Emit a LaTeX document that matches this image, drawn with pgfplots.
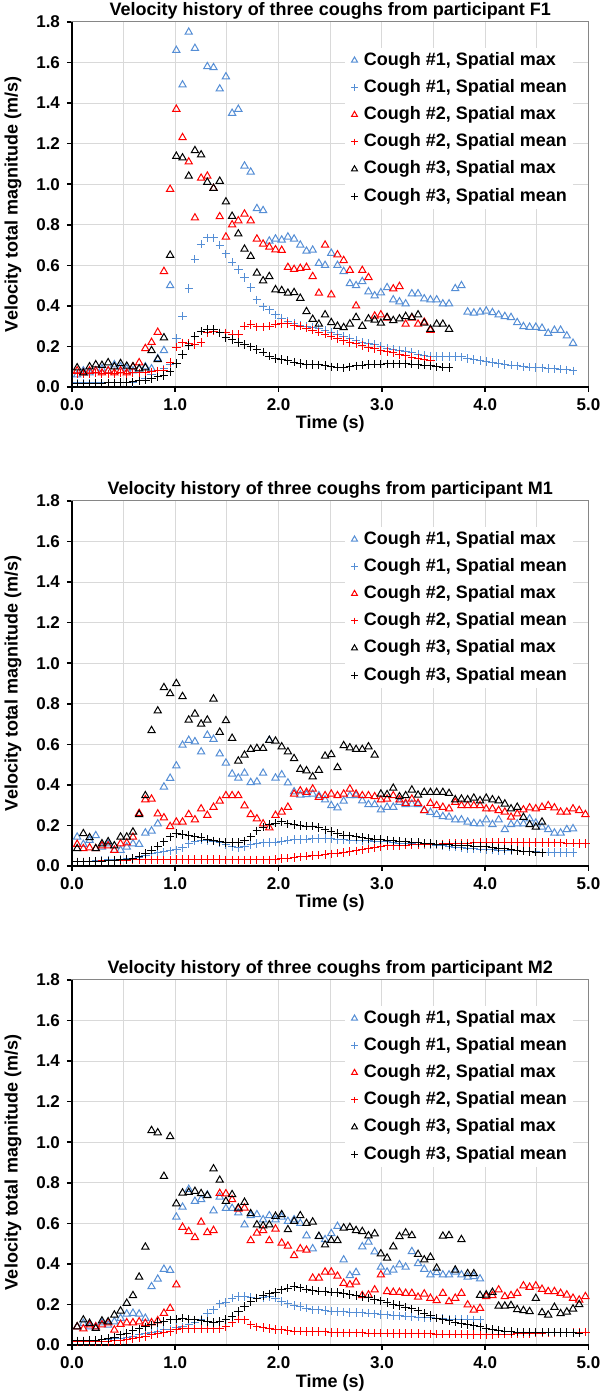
\documentclass[border=0pt]{standalone}
\usepackage{fontspec}
\setmainfont{Liberation Sans}
\usepackage{pgfplots}
\usepackage{pgfplotstable}
\pgfplotsset{compat=1.18}
\definecolor{cblue}{RGB}{85,142,213}
\definecolor{cred}{RGB}{255,0,0}
\definecolor{gridgray}{RGB}{217,217,217}
\definecolor{framegray}{RGB}{134,134,134}

% Panel F1
\pgfplotstableread{
t b1 b1m r2 r2m k3 k3m
0.05 0.06 0.02 0.08 0.065 0.095 0.015
0.11 0.08 0.02 0.07 0.065 0.07 0.015
0.17 0.07 0.02 0.08 0.065 0.10 0.015
0.23 0.08 0.02 0.08 0.07 0.11 0.018
0.29 0.09 0.02 0.07 0.065 0.107 0.018
0.35 0.08 0.02 0.08 0.065 0.12 0.02
0.41 0.11 0.02 0.07 0.065 0.10 0.02
0.47 0.10 0.02 0.08 0.07 0.116 0.022
0.53 0.09 0.02 0.07 0.065 0.103 0.022
0.59 0.08 0.02 0.10 0.07 0.10 0.025
0.65 0.09 0.03 0.12 0.07 0.09 0.03
0.71 0.10 0.04 0.19 0.07 0.095 0.034
0.77 0.09 0.06 0.22 0.074 0.18 0.04
0.83 0.14 0.08 0.27 0.079 0.136 0.05
0.89 0.18 0.09 0.57 0.082 0.243 0.057
0.95 0.50 0.11 0.975 0.12 0.65 0.074
1.01 1.66 0.24 1.37 0.197 1.138 0.115
1.07 1.49 0.35 1.23 0.218 1.13 0.16
1.13 1.75 0.485 1.11 0.215 1.04 0.205
1.19 1.67 0.63 0.834 0.21 1.166 0.25
1.25 nan 0.705 1.03 0.22 1.145 0.275
1.31 1.58 0.735 1.04 0.267 1.01 0.284
1.37 1.575 0.735 0.98 0.275 0.98 0.284
1.43 1.47 0.70 0.84 0.267 1.015 0.267
1.49 1.53 0.656 0.74 0.267 0.913 0.243
1.55 1.35 0.615 0.80 0.26 0.842 0.234
1.61 1.37 0.58 0.82 0.26 0.755 0.22
1.67 1.09 0.54 0.853 0.30 0.68 0.21
1.73 1.06 0.49 0.82 0.308 0.644 0.198
1.79 0.88 0.43 0.73 0.297 0.562 0.185
1.85 0.87 0.395 0.705 0.297 0.524 0.172
1.91 0.72 0.38 0.69 0.30 0.545 0.152
1.97 0.73 0.355 0.677 0.31 0.48 0.14
2.03 0.725 0.34 0.674 0.313 0.476 0.136
2.09 0.74 0.325 0.59 0.313 0.463 0.131
2.15 0.73 0.315 0.58 0.303 0.466 0.123
2.21 0.70 0.305 0.585 0.30 0.438 0.115
2.27 0.67 0.30 0.59 0.29 0.372 0.111
2.33 0.675 0.295 0.545 0.28 0.334 0.111
2.39 0.61 0.29 0.463 0.27 0.31 0.109
2.45 0.60 0.28 0.70 0.26 0.356 0.105
2.51 0.66 0.27 0.455 0.25 0.318 0.10
2.57 0.60 0.26 0.652 0.24 0.30 0.098
2.63 0.57 0.25 0.624 0.23 0.293 0.094
2.69 0.51 0.24 0.575 0.22 0.311 0.10
2.75 0.50 0.23 0.40 0.213 0.343 0.104
2.81 0.52 0.22 0.575 0.205 0.30 0.108
2.87 0.47 0.215 0.54 0.195 0.336 0.11
2.93 0.45 0.21 0.35 0.19 0.33 0.112
2.99 0.465 0.20 0.356 0.18 0.315 0.113
3.05 0.49 0.19 0.34 0.175 0.343 0.114
3.11 0.43 0.185 0.484 0.168 0.328 0.114
3.17 0.42 0.18 0.496 0.16 0.336 0.114
3.23 0.41 0.175 0.31 0.153 0.348 0.114
3.29 0.46 0.17 0.34 0.147 0.343 0.112
3.35 0.46 0.16 0.31 0.14 0.356 0.11
3.41 0.435 0.155 0.32 0.136 0.315 0.107
3.47 0.43 0.152 0.28 0.13 0.285 0.104
3.53 0.43 0.15 nan nan 0.31 0.10
3.59 0.41 0.15 nan nan 0.31 0.098
3.65 0.41 0.15 nan nan 0.285 0.097
3.71 0.485 0.15 nan nan nan nan
3.77 0.50 0.148 nan nan nan nan
3.83 0.37 0.14 nan nan nan nan
3.89 0.365 0.135 nan nan nan nan
3.95 0.37 0.13 nan nan nan nan
4.01 0.375 0.125 nan nan nan nan
4.07 0.367 0.12 nan nan nan nan
4.13 0.356 0.115 nan nan nan nan
4.19 0.348 0.11 nan nan nan nan
4.25 0.343 0.107 nan nan nan nan
4.31 0.318 0.104 nan nan nan nan
4.37 0.298 0.10 nan nan nan nan
4.43 0.295 0.098 nan nan nan nan
4.49 0.295 0.096 nan nan nan nan
4.55 0.29 0.094 nan nan nan nan
4.61 0.265 0.092 nan nan nan nan
4.67 0.28 0.09 nan nan nan nan
4.73 0.28 0.088 nan nan nan nan
4.79 0.252 0.085 nan nan nan nan
4.85 0.216 0.08 nan nan nan nan
}\tabA

% Panel M1
\pgfplotstableread{
t b1 b1m r2 r2m k3 k3m
0.05 0.143 0.02 0.107 0.02 0.086 0.02
0.11 0.107 0.02 0.086 0.02 0.16 0.02
0.17 0.127 0.022 0.09 0.022 0.14 0.022
0.23 0.15 0.025 0.086 0.024 0.086 0.022
0.29 0.094 0.027 0.10 0.025 0.11 0.024
0.35 0.11 0.03 0.10 0.026 0.12 0.025
0.41 0.078 0.03 0.078 0.027 0.10 0.027
0.47 0.078 0.032 0.11 0.028 0.143 0.03
0.53 0.094 0.035 0.114 0.029 0.143 0.033
0.59 0.11 0.038 0.143 0.03 0.168 0.037
0.65 0.107 0.042 0.26 0.03 0.254 0.048
0.71 0.163 0.05 0.327 0.03 0.347 0.062
0.77 0.173 0.06 0.33 0.03 0.668 0.078
0.83 0.208 0.065 0.257 0.03 0.765 0.098
0.89 0.39 0.07 0.238 0.031 0.88 0.119
0.95 0.433 0.075 0.195 0.031 0.85 0.143
1.01 0.494 0.08 0.217 0.032 0.90 0.16
1.07 0.596 0.09 0.217 0.032 0.836 0.156
1.13 0.62 0.11 0.254 0.032 0.72 0.151
1.19 0.613 0.122 0.228 0.032 0.75 0.143
1.25 0.563 0.127 0.282 0.032 0.70 0.14
1.31 0.645 0.124 0.25 0.032 0.72 0.132
1.37 0.625 0.122 0.29 0.032 0.824 0.124
1.43 0.553 0.114 0.32 0.032 0.66 0.119
1.49 0.508 0.105 0.347 0.031 0.717 0.116
1.55 0.454 0.095 0.347 0.031 0.63 0.116
1.61 0.434 0.091 0.347 0.031 0.518 0.116
1.67 0.458 0.095 0.297 0.03 0.547 0.124
1.73 0.412 0.104 0.254 0.03 0.575 0.143
1.79 0.415 0.11 0.233 0.03 0.58 0.173
1.85 0.458 0.114 0.208 0.03 0.58 0.192
1.91 0.62 0.115 0.189 0.031 0.62 0.204
1.97 0.434 0.118 0.25 0.033 0.616 0.212
2.03 0.45 0.122 0.266 0.036 0.588 0.217
2.09 0.41 0.127 0.29 0.039 0.563 0.208
2.15 0.366 0.13 0.355 0.042 0.53 0.204
2.21 0.35 0.13 0.371 0.045 0.477 0.20
2.27 0.352 0.132 0.363 0.048 0.47 0.197
2.33 0.355 0.134 0.38 0.051 0.44 0.197
2.39 0.347 0.136 0.339 0.054 0.472 0.19
2.45 0.326 0.135 0.347 0.057 0.542 0.178
2.51 0.298 0.134 0.355 0.06 0.55 0.17
2.57 0.287 0.13 0.347 0.063 0.485 0.16
2.63 0.32 0.129 0.355 0.067 0.594 0.152
2.69 0.347 0.128 0.38 0.071 0.583 0.148
2.75 0.347 0.127 0.355 0.075 0.575 0.144
2.81 0.322 0.126 0.347 0.08 0.575 0.14
2.87 0.303 0.125 0.347 0.085 0.588 0.136
2.93 0.303 0.123 0.342 0.09 0.547 0.133
2.99 0.277 0.121 0.326 0.095 0.355 0.13
3.05 0.29 0.119 0.33 0.10 0.352 0.127
3.11 0.29 0.116 0.347 0.101 0.384 0.124
3.17 0.314 0.113 0.326 0.102 0.342 0.121
3.23 0.303 0.111 0.309 0.103 0.347 0.119
3.29 0.306 0.109 0.33 0.105 0.375 0.117
3.35 0.303 0.107 0.309 0.106 0.35 0.115
3.41 0.274 0.106 0.274 0.107 0.363 0.112
3.47 0.265 0.104 0.309 0.107 0.363 0.11
3.53 0.254 0.103 0.298 0.108 0.363 0.107
3.59 0.244 0.10 0.29 0.109 0.363 0.105
3.65 0.241 0.096 0.282 0.11 0.358 0.104
3.71 0.228 0.093 0.314 0.111 0.327 0.103
3.77 0.228 0.09 0.298 0.112 0.33 0.101
3.83 0.217 0.087 0.298 0.113 0.327 0.099
3.89 0.21 0.085 0.298 0.114 0.335 0.098
3.95 0.208 0.083 0.298 0.115 0.322 0.096
4.01 0.228 0.081 0.282 0.115 0.335 0.094
4.07 0.205 0.079 0.282 0.115 0.327 0.091
4.13 0.228 0.077 0.274 0.115 0.322 0.088
4.19 0.18 0.075 0.266 0.115 0.306 0.085
4.25 0.205 0.075 0.241 0.115 0.282 0.081
4.31 0.208 0.075 0.257 0.115 0.29 0.076
4.37 0.208 0.073 0.277 0.115 0.24 0.073
4.43 0.233 0.072 0.287 0.115 0.204 0.071
4.49 0.212 0.07 0.282 0.115 0.192 0.068
4.55 0.192 0.069 0.29 0.115 0.217 0.065
4.61 0.18 0.068 0.298 0.115 nan nan
4.67 0.163 0.067 0.287 0.114 nan nan
4.73 0.163 0.067 0.266 0.114 nan nan
4.79 0.18 0.067 0.266 0.113 nan nan
4.85 0.184 0.067 0.282 0.112 nan nan
4.91 nan nan 0.274 0.111 nan nan
4.97 nan nan 0.254 0.11 nan nan
}\tabB

% Panel M2
\pgfplotstableread{
t b1 b1m r2 r2m k3 k3m
0.05 0.09 0.02 0.09 0.015 0.09 0.02
0.11 0.107 0.02 0.08 0.015 0.124 0.02
0.17 0.09 0.022 0.10 0.015 0.107 0.022
0.23 0.09 0.024 0.09 0.016 0.082 0.024
0.29 0.11 0.026 0.10 0.017 0.119 0.028
0.35 0.099 0.028 0.11 0.018 0.115 0.033
0.41 0.115 0.03 0.074 0.02 0.148 0.038
0.47 0.132 0.032 0.102 0.022 0.168 0.05
0.53 0.153 0.035 0.11 0.025 0.206 0.058
0.59 0.157 0.04 0.11 0.03 0.244 0.071
0.65 0.153 0.05 0.115 0.037 0.335 0.08
0.71 0.132 0.058 0.107 0.042 0.483 0.09
0.77 0.288 0.064 0.11 0.05 1.058 0.10
0.83 0.325 0.069 0.12 0.055 1.047 0.11
0.89 0.374 0.074 0.157 0.06 0.832 0.115
0.95 0.368 0.077 0.181 0.066 1.028 0.124
1.01 0.631 0.087 0.297 0.077 0.697 0.127
1.07 0.68 0.09 0.581 0.079 0.75 0.132
1.13 0.768 0.099 0.56 0.08 0.753 0.128
1.19 0.709 0.11 0.53 0.08 0.758 0.124
1.25 0.718 0.127 0.606 0.08 0.747 0.12
1.31 0.74 0.157 0.555 0.079 0.737 0.115
1.37 0.662 0.173 0.565 0.08 0.869 0.11
1.43 0.73 0.203 0.748 0.082 0.813 0.115
1.49 0.674 0.21 0.746 0.09 0.709 0.125
1.55 0.674 0.231 0.717 0.11 0.742 0.14
1.61 0.652 0.239 0.671 0.127 0.676 0.165
1.67 0.593 0.239 0.676 0.124 0.704 0.19
1.73 0.638 0.236 0.515 0.099 0.648 0.214
1.79 0.643 0.231 0.552 0.09 0.593 0.231
1.85 0.618 0.234 0.565 0.087 0.588 0.244
1.91 0.638 0.239 0.515 0.082 0.593 0.252
1.97 0.618 0.231 0.572 0.077 0.635 0.259
2.03 0.631 0.214 0.503 0.074 0.643 0.272
2.09 0.61 0.203 0.488 0.071 0.569 0.28
2.15 0.618 0.194 0.441 0.069 0.61 0.288
2.21 0.60 0.19 0.475 0.069 0.638 0.282
2.27 0.539 0.181 0.468 0.066 0.60 0.275
2.33 0.475 0.173 0.33 0.066 0.607 0.269
2.39 0.535 0.173 0.33 0.066 0.536 0.266
2.45 0.52 0.17 0.36 0.065 0.494 0.264
2.51 0.55 0.167 0.36 0.062 0.516 0.26
2.57 0.585 0.165 0.34 0.061 0.515 0.258
2.63 0.42 0.163 0.305 0.06 0.577 0.254
2.69 0.343 0.161 0.297 0.06 0.58 0.25
2.75 0.358 0.16 0.31 0.06 0.565 0.244
2.81 0.485 0.159 0.244 0.06 0.56 0.239
2.87 0.508 0.157 0.247 0.059 0.539 0.232
2.93 0.46 0.154 0.272 0.059 0.549 0.225
2.99 0.384 0.151 0.346 0.058 0.45 0.217
3.05 0.36 0.148 0.264 0.058 0.429 0.209
3.11 0.37 0.146 0.26 0.057 0.485 0.20
3.17 0.396 0.144 0.26 0.057 0.535 0.194
3.23 0.384 0.143 0.255 0.057 0.553 0.187
3.29 0.461 0.14 0.255 0.056 0.54 0.178
3.35 0.402 0.138 0.236 0.056 0.447 0.168
3.41 0.374 0.136 0.252 0.055 0.42 0.156
3.47 0.346 0.134 0.231 0.055 0.433 0.145
3.53 0.357 0.132 0.219 0.054 0.379 0.133
3.59 0.346 0.13 0.255 0.054 0.537 0.126
3.65 0.346 0.128 0.214 0.053 0.54 0.12
3.71 0.36 0.127 0.231 0.053 0.37 0.113
3.77 0.346 0.126 0.255 0.053 0.52 0.107
3.83 0.335 0.125 0.198 0.052 0.352 0.101
3.89 0.338 0.124 0.173 0.052 0.352 0.095
3.95 0.326 0.124 0.181 0.052 0.245 0.089
4.01 nan nan 0.239 0.052 0.247 0.082
4.07 nan nan 0.244 0.052 0.26 0.076
4.13 nan nan 0.272 0.053 0.192 0.071
4.19 nan nan 0.239 0.053 0.192 0.068
4.25 nan nan 0.244 0.054 0.195 0.066
4.31 nan nan 0.255 0.055 0.175 0.064
4.37 nan nan 0.292 0.056 0.17 0.063
4.43 nan nan 0.285 0.057 0.165 0.063
4.49 nan nan 0.292 0.058 0.23 0.063
4.55 nan nan 0.275 0.059 0.16 0.063
4.61 nan nan 0.264 0.06 0.148 0.063
4.67 nan nan 0.264 0.06 0.186 0.063
4.73 nan nan 0.255 0.061 0.155 0.062
4.79 nan nan 0.247 0.062 0.163 0.061
4.85 nan nan 0.231 0.062 0.178 0.06
4.91 nan nan 0.222 0.063 0.20 0.058
4.97 nan nan 0.239 0.064 nan nan
}\tabC

\pgfplotsset{
  panel/.style={
    scale only axis, width=258.25pt, height=182.5pt,
    xmin=0, xmax=5, ymin=0, ymax=1.8,
    xtick={0,1,2,3,4,5},
    ytick={0,0.2,0.4,0.6,0.8,1.0,1.2,1.4,1.6,1.8},
    minor x tick num=1,
    xmajorgrids=true, xminorgrids=true, ymajorgrids=true,
    major grid style={draw=gridgray, line width=0.5pt},
    minor grid style={draw=gridgray, line width=0.5pt},
    axis line style={draw=framegray, line width=0.5pt},
    tick align=outside, xtick pos=bottom, ytick pos=left,
    major tick length=2.5pt, minor tick length=0pt,
    tick style={black, line width=0.8pt},
    /pgf/number format/.cd, fixed, fixed zerofill, precision=1, assume math mode=true,
    /pgfplots/.cd,
    tick label style={font=\bfseries\fontsize{8.5}{10}\selectfont, text=black},
    xlabel={Time (s)},
    ylabel={Velocity total magnitude (m/s)},
    label style={font=\bfseries\fontsize{9}{11}\selectfont},
    xlabel style={at={(axis description cs:0.5,0)}, anchor=base, yshift=-21pt},
    ylabel style={at={(axis description cs:-0.114,0.5)}, anchor=center},
    title style={at={(axis description cs:0.5,1)}, anchor=base, yshift=-2.9pt,
                 font=\bfseries\fontsize{9}{11}\selectfont},
    legend style={at={(axis description cs:0.528,0.93)}, anchor=north west,
                  draw=none, fill=white, inner xsep=3pt, inner ysep=2pt,
                  font=\bfseries\fontsize{9}{11}\selectfont,
                  row sep=5.2pt, column sep=3pt,
                  nodes={inner sep=0pt, text height=6.6pt, text depth=1.8pt}},
    legend cell align=left,
    clip=false,
  },
  pm/.style={only marks, line width=0.5pt, mark size=2.1pt,
    legend image code/.code={\draw[##1, mark size=1.7pt] plot coordinates {(0pt,0pt)};}},
  bmax/.style={pm, color=cblue, mark=triangle},
  bmean/.style={pm, color=cblue, mark=+},
  rmax/.style={pm, color=cred, mark=triangle},
  rmean/.style={pm, color=cred, mark=+},
  kmax/.style={pm, color=black, mark=triangle},
  kmean/.style={pm, color=black, mark=+},
}

\newcommand{\panelplots}[1]{%
  \addplot[bmax] table[x=t, y=b1] {#1};
  \addplot[bmean] table[x=t, y=b1m] {#1};
  \addplot[rmax] table[x=t, y=r2] {#1};
  \addplot[rmean] table[x=t, y=r2m] {#1};
  \addplot[kmax] table[x=t, y=k3] {#1};
  \addplot[kmean] table[x=t, y=k3m] {#1};
  \legend{Cough \#1{,} Spatial max, Cough \#1{,} Spatial mean, Cough \#2{,} Spatial max, Cough \#2{,} Spatial mean, Cough \#3{,} Spatial max, Cough \#3{,} Spatial mean}
  \draw[black, line width=1pt] (rel axis cs:0,1) -- (rel axis cs:0,0) -- (rel axis cs:1,0);
}

\begin{document}
\begin{tikzpicture}
\useasboundingbox (-36pt,-25.5pt) rectangle (264pt,672.5pt);
\begin{axis}[panel, at={(0pt,479pt)}, title={Velocity history of three coughs from participant F1}]
\panelplots{\tabA}
\end{axis}
\begin{axis}[panel, at={(0pt,239.5pt)}, title={Velocity history of three coughs from participant M1}]
\panelplots{\tabB}
\end{axis}
\begin{axis}[panel, at={(0pt,0pt)}, title={Velocity history of three coughs from participant M2}]
\panelplots{\tabC}
\end{axis}
\end{tikzpicture}
\end{document}
